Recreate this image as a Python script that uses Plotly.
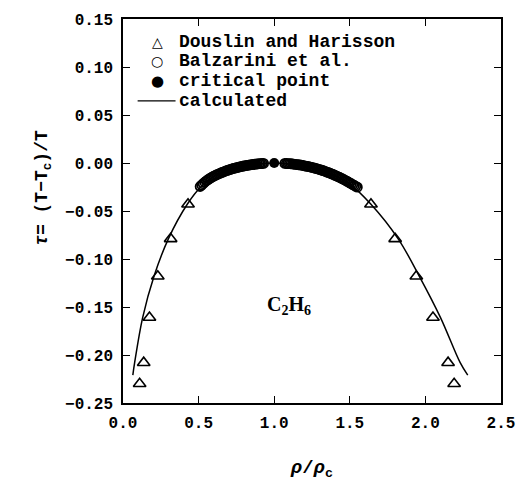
import plotly.graph_objects as go

# Douslin and Harisson (triangles)
dh_x = [0.11, 0.137, 0.175, 0.23, 0.315, 0.43, 1.64, 1.80, 1.94, 2.05, 2.15, 2.19]
dh_y = [-0.230, -0.208, -0.161, -0.118, -0.079, -0.043, -0.043, -0.079, -0.118, -0.161, -0.208, -0.230]

# Balzarini et al. (open circles)
bz_x = [0.51, 0.52, 0.53, 0.54, 0.55, 0.56, 0.57, 0.58, 0.59, 0.60, 0.61, 0.62, 0.63, 0.64,
        0.65, 0.66, 0.67, 0.68, 0.69, 0.70, 0.71, 0.72, 0.73, 0.74, 0.75, 0.76, 0.77, 0.78,
        0.79, 0.80, 0.81, 0.82, 0.83, 0.84, 0.85, 0.86, 0.87, 0.88, 0.89, 0.90, 0.91, 0.92,
        0.93,
        1.07, 1.08, 1.09, 1.10, 1.11, 1.12, 1.13, 1.14, 1.15, 1.16, 1.17, 1.18, 1.19, 1.20,
        1.21, 1.22, 1.23, 1.24, 1.25, 1.26, 1.27, 1.28, 1.29, 1.30, 1.31, 1.32, 1.33, 1.34,
        1.35, 1.36, 1.37, 1.38, 1.39, 1.40, 1.41, 1.42, 1.43, 1.44, 1.45, 1.46, 1.47, 1.48,
        1.49, 1.50, 1.51, 1.52, 1.53, 1.54, 1.55]
bz_y = [-0.0245, -0.0230, -0.0215, -0.0200, -0.0188, -0.0176, -0.0165, -0.0155, -0.0146,
        -0.0138, -0.0130, -0.0122, -0.0115, -0.0108, -0.0101, -0.0095, -0.0089, -0.0083,
        -0.0077, -0.0072, -0.0067, -0.0062, -0.0057, -0.0053, -0.0049, -0.0045, -0.0041,
        -0.0037, -0.0034, -0.0031, -0.0028, -0.0025, -0.0022, -0.0019, -0.0017, -0.0015,
        -0.0013, -0.0011, -0.0009, -0.0007, -0.0006, -0.0005, -0.0004,
        -0.0004, -0.0005, -0.0006, -0.0007, -0.0008, -0.0010, -0.0012, -0.0014, -0.0016,
        -0.0018, -0.0020, -0.0023, -0.0026, -0.0029, -0.0032, -0.0035, -0.0038, -0.0042,
        -0.0046, -0.0050, -0.0054, -0.0058, -0.0063, -0.0068, -0.0073, -0.0078, -0.0083,
        -0.0089, -0.0095, -0.0101, -0.0107, -0.0113, -0.0120, -0.0127, -0.0134, -0.0141,
        -0.0148, -0.0156, -0.0164, -0.0172, -0.0180, -0.0189, -0.0198, -0.0207, -0.0216,
        -0.0225, -0.0234, -0.0243, -0.0252]

# critical point
cp_x = [1.0]
cp_y = [0.0]

# calculated curve
calc_x = [0.065, 0.077, 0.13, 0.205, 0.30, 0.425, 0.52, 0.60, 0.70, 0.80, 0.90, 1.00,
          1.10, 1.20, 1.30, 1.40, 1.50, 1.64, 1.82, 1.96, 2.10, 2.23, 2.28]
calc_y = [-0.221, -0.208, -0.161, -0.118, -0.079, -0.043, -0.024, -0.014, -0.007, -0.003,
          -0.001, 0.0, -0.001, -0.003, -0.007, -0.013, -0.022, -0.043, -0.079, -0.118,
          -0.161, -0.208, -0.221]

x_ticks = [0.0, 0.5, 1.0, 1.5, 2.0, 2.5]
y_ticks = [0.15, 0.10, 0.05, 0.00, -0.05, -0.10, -0.15, -0.20, -0.25]

legend_symbols = ["△", "○", "●"]
legend_labels = ["Douslin and Harisson", "Balzarini et al.", "critical point", "calculated"]

MONO = "Liberation Mono"

fig = go.Figure()
fig.add_trace(go.Scatter(x=calc_x, y=calc_y, mode="lines", name=legend_labels[3],
                         line=dict(color="black", width=1.5, shape="spline")))
fig.add_trace(go.Scatter(x=dh_x, y=dh_y, mode="markers", name=legend_labels[0],
                         marker=dict(symbol="triangle-up-open", size=11, color="black",
                                     line=dict(width=1.6))))
fig.add_trace(go.Scatter(x=bz_x, y=bz_y, mode="markers", name=legend_labels[1],
                         marker=dict(symbol="circle-open", size=9, color="black",
                                     line=dict(width=1.8))))
fig.add_trace(go.Scatter(x=cp_x, y=cp_y, mode="markers", name=legend_labels[2],
                         marker=dict(symbol="circle", size=10, color="black")))

# manual legend (paper coordinates)
row_y = [0.941, 0.890, 0.838, 0.787]
sym_x = 0.090
txt_x = 0.142
for i, lab in enumerate(legend_labels):
    fig.add_annotation(x=txt_x, y=row_y[i], xref="paper", yref="paper", showarrow=False,
                       xanchor="left", yanchor="middle", text=lab,
                       font=dict(family=MONO, size=18, color="black", weight="bold"))
for i, s in enumerate(legend_symbols):
    fig.add_annotation(x=sym_x, y=row_y[i], xref="paper", yref="paper", showarrow=False,
                       xanchor="center", yanchor="middle", text=s,
                       font=dict(family="DejaVu Sans", size=14 if i < 2 else 15,
                                 color="black", weight="bold"))
fig.add_shape(type="line", xref="paper", yref="paper", x0=0.0387, x1=0.139,
              y0=row_y[3], y1=row_y[3], line=dict(color="black", width=1.2))

fig.add_annotation(x=1.10, y=-0.148, xref="x", yref="y", showarrow=False,
                   text="C<sub>2</sub>H<sub>6</sub>",
                   font=dict(family="Liberation Serif", size=20, color="black", weight="bold"))

fig.add_annotation(x=-0.245, y=0.56, xref="paper", yref="paper", showarrow=False,
                   textangle=-90,
                   text="<i>τ</i>= (T−T<sub>c</sub>)/T",
                   font=dict(family=MONO, size=18, color="black", weight="bold"))

axis_common = dict(showgrid=False, zeroline=False, showline=True, linecolor="black",
                   linewidth=1.5, mirror="ticks", ticks="inside", ticklen=7,
                   tickwidth=1.3, tickcolor="black",
                   tickfont=dict(family=MONO, size=16, color="black", weight="bold"))

fig.update_xaxes(range=[0, 2.5], tickvals=x_ticks,
                 ticktext=[f"{v:.1f}" for v in x_ticks], ticklabelstandoff=4,
                 title=dict(text="<i>ρ</i>/<i>ρ</i><sub>c</sub>", standoff=28,
                            font=dict(family=MONO, size=19, color="black", weight="bold")),
                 **axis_common)
fig.update_yaxes(range=[-0.25, 0.15], tickvals=y_ticks,
                 ticktext=[f"{v:.2f}".replace("-", "−") for v in y_ticks],
                 ticklabelstandoff=5,
                 **axis_common)

fig.update_layout(
    width=527, height=486,
    margin=dict(l=123, r=16, t=14, b=83),
    paper_bgcolor="white", plot_bgcolor="white",
    showlegend=False,
)

fig.write_html("out.html")
